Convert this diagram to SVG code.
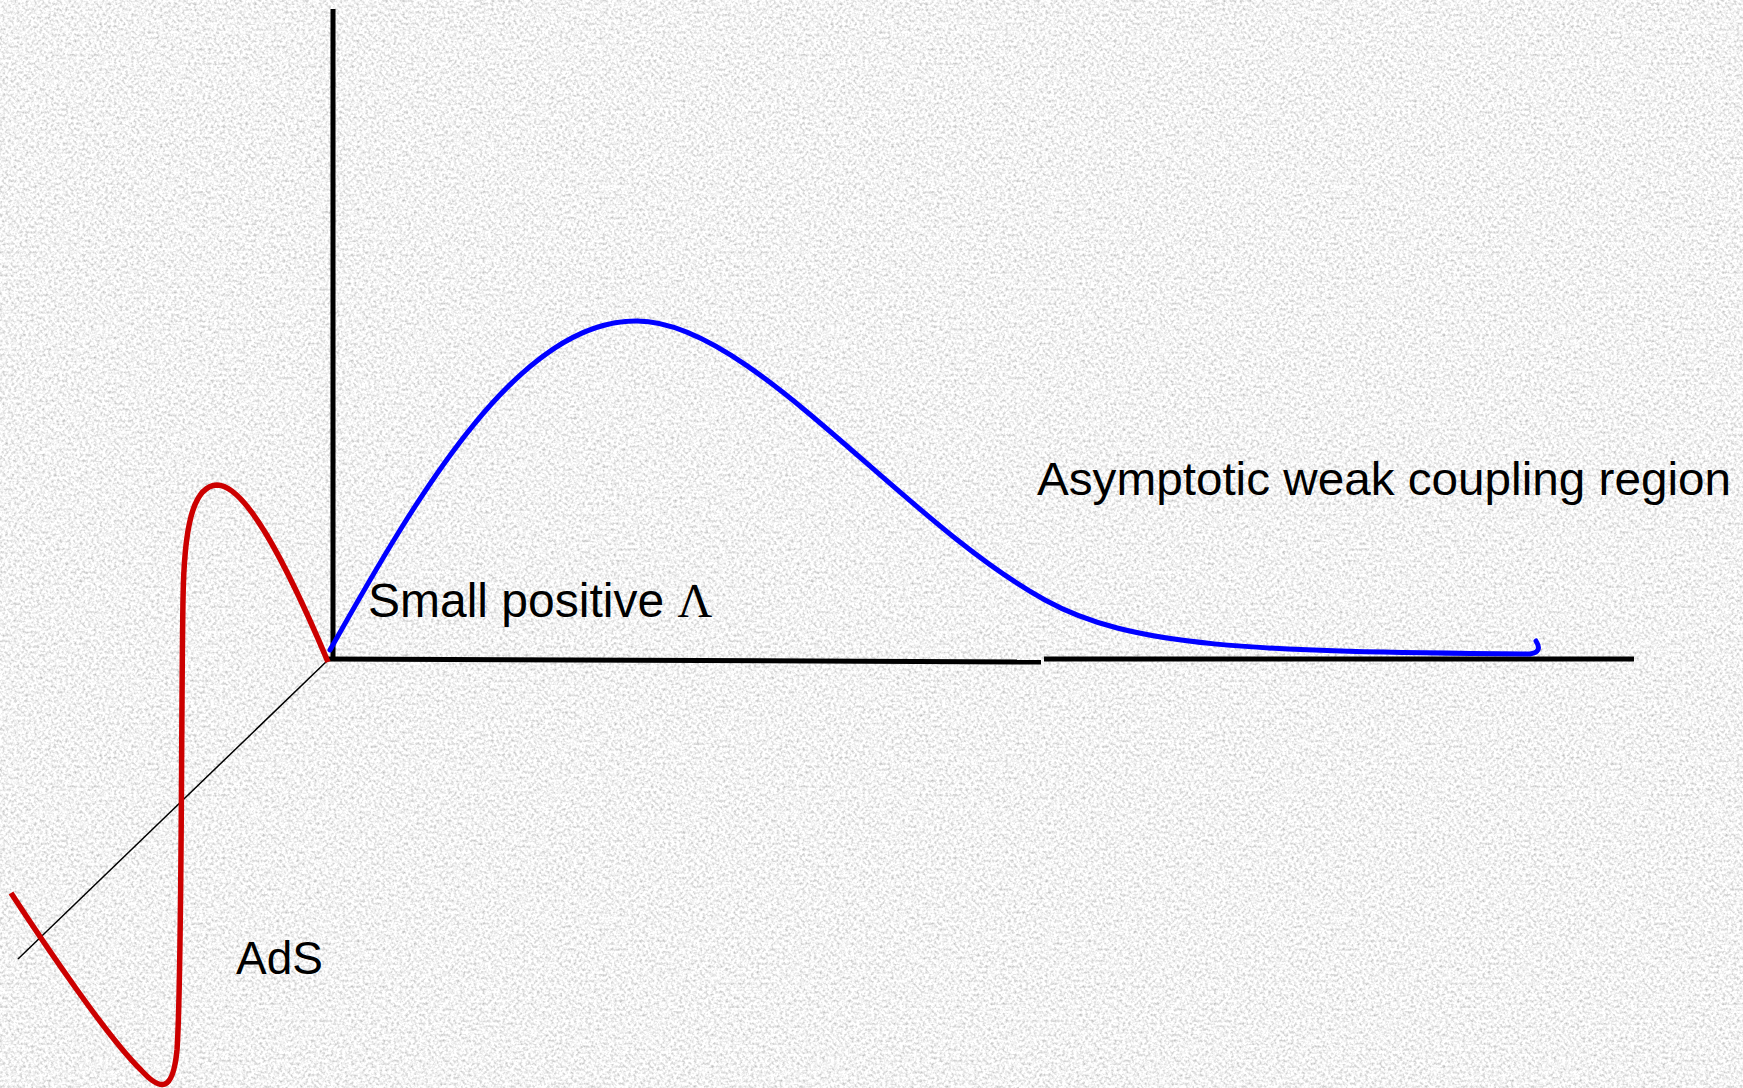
<svg xmlns="http://www.w3.org/2000/svg" width="1743" height="1088" viewBox="0 0 1743 1088">
  <defs>
    <filter id="noise" x="0" y="0" width="100%" height="100%" filterUnits="userSpaceOnUse">
      <feTurbulence type="fractalNoise" baseFrequency="0.35" numOctaves="2" seed="7" result="t"/>
      <feColorMatrix in="t" type="matrix" values="1.0 0 0 0 0.4  1.0 0 0 0 0.4  1.0 0 0 0 0.4  0 0 0 0 1"/>
    </filter>
    <style>
      .axis { stroke: #000; stroke-width: 5; fill: none; }
      .thin { stroke: #000; stroke-width: 1.5; fill: none; }
      .red { stroke: #cc0000; stroke-width: 5.5; fill: none; stroke-linecap: butt; }
      .blue { stroke: #0000ff; stroke-width: 5; fill: none; stroke-linecap: round; }
      .lbl { font-family: "Liberation Sans", Arial, sans-serif; font-size: 46px; fill: #000; }
      .big { font-size: 48px; }
      .serif { font-family: "Liberation Serif", "Times New Roman", serif; }
    </style>
  </defs>
  <rect x="0" y="0" width="1743" height="1088" fill="#e2e2e2"/>
  <rect x="0" y="0" width="1743" height="1088" filter="url(#noise)"/>

  <g id="connectors">
    <path id="y-axis" class="axis" d="M 333 9 L 333 659"/>
    <path id="x-axis-left" class="axis" d="M 328 659 L 1041 662"/>
    <path id="x-axis-right" class="axis" d="M 1044 659 L 1634 659"/>
    <path id="diagonal" class="thin" d="M 328 660 L 18 959"/>
  </g>

  <g id="ads-curve">
    <path class="red" d="M 11 893 C 45 945, 108 1038, 141 1070 C 161 1092, 173 1092, 177 1050 C 182 980, 181 720, 183 600 C 184 530, 192 486, 217 485 C 245 485, 285 560, 328 662"/>
  </g>

  <g id="ds-curve">
    <path class="blue" d="M 330 650 C 420 490, 520 320, 637 321 C 750 321, 900 520, 1045 600 C 1130 647, 1250 652, 1530 654 Q 1543 652 1536 641"/>
  </g>

  <g id="label-weak">
    <text class="lbl" x="1037" y="495" textLength="694" lengthAdjust="spacingAndGlyphs">Asymptotic weak coupling region</text>
  </g>
  <g id="label-small">
    <text class="lbl big" x="368" y="617">Small positive <tspan class="serif">Λ</tspan></text>
  </g>
  <g id="label-ads">
    <text class="lbl" x="236" y="974">AdS</text>
  </g>
</svg>
